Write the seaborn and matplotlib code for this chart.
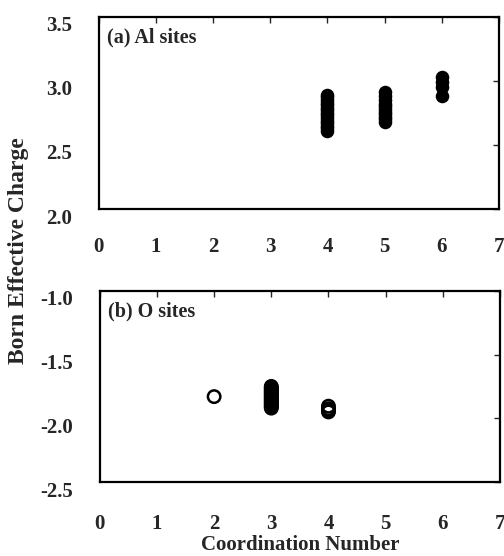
import pandas as pd
import matplotlib.pyplot as plt
import matplotlib.transforms as mtrans
import seaborn as sns

# Al sites (coordination number, Born effective charge)
al_cn4 = [2.61, 2.63, 2.65, 2.67, 2.69, 2.71, 2.73, 2.75, 2.77, 2.79, 2.81, 2.83, 2.85, 2.87, 2.89]
al_cn5 = [2.68, 2.70, 2.72, 2.74, 2.76, 2.78, 2.80, 2.82, 2.85, 2.88, 2.915]
al_cn6 = [2.88, 2.95, 2.99, 3.03]

# O sites
o_cn2 = [-1.83]
o_cn3 = [-1.75, -1.76, -1.77, -1.78, -1.79, -1.80, -1.81, -1.82, -1.83, -1.84,
         -1.85, -1.86, -1.87, -1.88, -1.89, -1.90, -1.91, -1.92]
o_cn4 = [-1.905, -1.925, -1.94, -1.95]

x_ticks = [0, 1, 2, 3, 4, 5, 6, 7]
al_yticks = [2.0, 2.5, 3.0, 3.5]
o_yticks = [-2.5, -2.0, -1.5, -1.0]

al = pd.DataFrame({
    'cn': [4] * len(al_cn4) + [5] * len(al_cn5) + [6] * len(al_cn6),
    'charge': al_cn4 + al_cn5 + al_cn6,
})
ox = pd.DataFrame({
    'cn': [2] * len(o_cn2) + [3] * len(o_cn3) + [4] * len(o_cn4),
    'charge': o_cn2 + o_cn3 + o_cn4,
})

sns.set_style('white')
plt.rcParams['font.family'] = ['Liberation Serif', 'DejaVu Serif']
plt.rcParams['font.weight'] = 'bold'

fig = plt.figure(figsize=(5.04, 5.56), dpi=100)
ax1 = fig.add_axes([0.196, 0.624, 0.794, 0.346])
ax2 = fig.add_axes([0.198, 0.133, 0.794, 0.344])

sns.scatterplot(data=al, x='cn', y='charge', ax=ax1, color='black',
                s=95, marker='o', edgecolor='black', linewidth=0, zorder=3)
sns.scatterplot(data=ox, x='cn', y='charge', ax=ax2, facecolor='none',
                s=80, marker='o', edgecolor='black', linewidth=1.8, zorder=3)

shift = mtrans.ScaledTranslation(0, -7 / 100, fig.dpi_scale_trans)

for ax, yt, lims, label in [(ax1, al_yticks, (2.0, 3.5), '(a) Al sites'),
                            (ax2, o_yticks, (-2.5, -1.0), '(b) O sites')]:
    ax.set_xlim(0, 7)
    ax.set_ylim(*lims)
    ax.set_xticks(x_ticks)
    ax.set_yticks(yt)
    ax.set_xticklabels([str(t) for t in x_ticks])
    ax.set_yticklabels(['%.1f' % t for t in yt])
    ax.tick_params(direction='in', length=4, width=1, top=True, right=True,
                   labelsize=15)
    ax.tick_params(axis='y', pad=19)
    for lbl in ax.get_xticklabels() + ax.get_yticklabels():
        lbl.set_fontweight('bold')
    for lbl in ax.get_yticklabels():
        lbl.set_transform(lbl.get_transform() + shift)
    for sp in ax.spines.values():
        sp.set_linewidth(1.6)
        sp.set_color('black')
    ax.set_xlabel('')
    ax.set_ylabel('')
    ax.text(0.02, 0.89, label, transform=ax.transAxes, fontsize=14.5,
            fontweight='bold', va='center', ha='left')

ax1.tick_params(axis='x', pad=20)
ax2.tick_params(axis='x', pad=23)

fig.text(0.036, 0.55, 'Born Effective Charge', rotation=90, fontsize=17,
         fontweight='bold', va='center', ha='center')
fig.text(0.596, 0.02, 'Coordination Number', fontsize=15,
         fontweight='bold', va='center', ha='center')

plt.savefig('out.png', dpi=100)
